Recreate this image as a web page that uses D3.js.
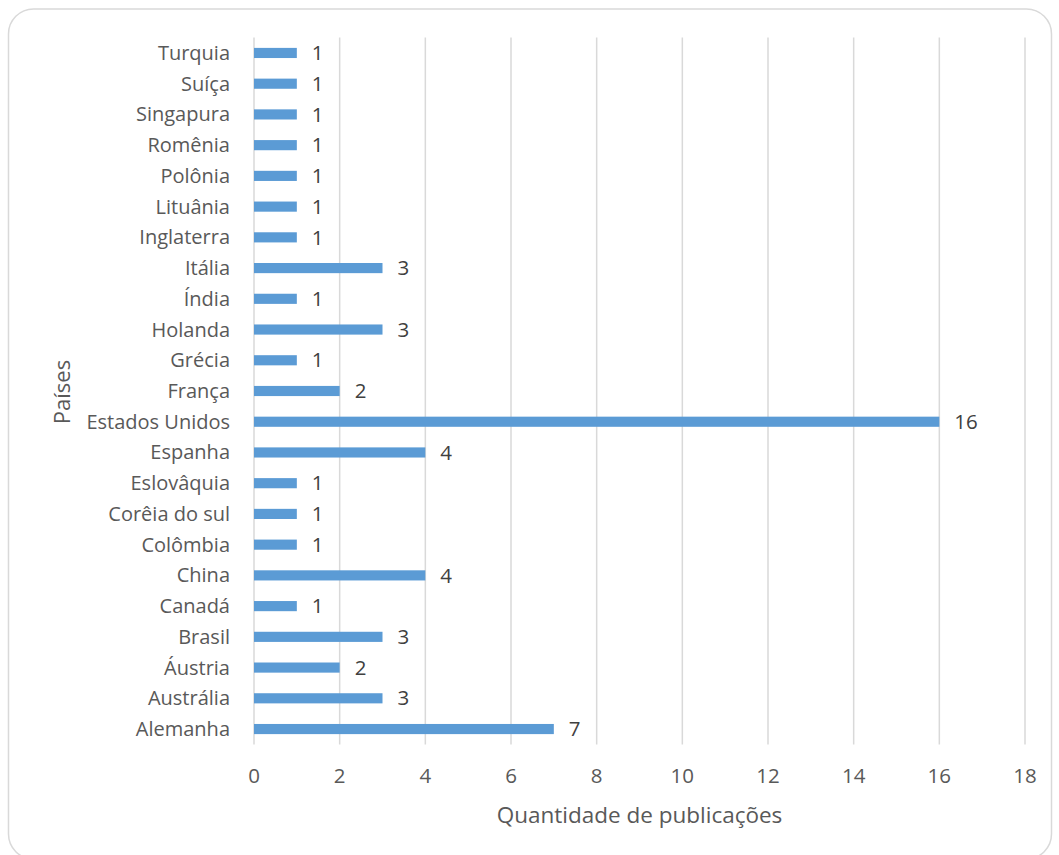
<!DOCTYPE html>
<html><head><meta charset="utf-8">
<script src="https://cdn.jsdelivr.net/npm/d3@7"></script>
<style>body{margin:0;background:#fff;}svg{display:block;}</style>
</head><body>
<script>
const countries = ["Turquia","Suíça","Singapura","Romênia","Polônia","Lituânia","Inglaterra","Itália","Índia","Holanda","Grécia","França","Estados Unidos","Espanha","Eslovâquia","Corêia do sul","Colômbia","China","Canadá","Brasil","Áustria","Austrália","Alemanha"];
const publications = [1,1,1,1,1,1,1,3,1,3,1,2,16,4,1,1,1,4,1,3,2,3,7];
const xTicks = [0,2,4,6,8,10,12,14,16,18];
const xTitle = "Quantidade de publicações";
const yTitle = "Países";

const W = 1059, H = 855;
const font = "'Open Sans', sans-serif";
const txt = "#595959";
const svg = d3.select("body").append("svg").attr("width", W).attr("height", H);

svg.append("rect").attr("x",8.5).attr("y",9).attr("width",1043).attr("height",850)
  .attr("rx",25).attr("fill","#fff").attr("stroke","#d9d9d9").attr("stroke-width",1.5);

const x = d3.scaleLinear().domain([0,18]).range([254,1025]);
const y = d3.scaleBand().domain(countries).range([37.6,744.4]).paddingInner(0.67).paddingOuter(0.335);

const g = svg.append("g");
g.selectAll("line.grid").data(xTicks).join("line").attr("class","grid")
  .attr("x1",d=>x(d)).attr("x2",d=>x(d)).attr("y1",37.6).attr("y2",744.4)
  .attr("stroke","#d9d9d9").attr("stroke-width",1.5);

g.selectAll("rect.bar").data(countries).join("rect").attr("class","bar")
  .attr("x",x(0)).attr("y",d=>y(d)).attr("height",y.bandwidth())
  .attr("width",(d,i)=>x(publications[i])-x(0)).attr("fill","#5B9BD5");

g.selectAll("text.val").data(countries).join("text").attr("class","val")
  .attr("x",(d,i)=>x(publications[i])+15).attr("y",d=>y(d)+y.bandwidth()/2)
  .attr("dy","0.35em").attr("font-family",font).attr("font-size",20.5).attr("fill","#404040")
  .text((d,i)=>publications[i]);

g.selectAll("text.cat").data(countries).join("text").attr("class","cat")
  .attr("x",230).attr("y",d=>y(d)+y.bandwidth()/2).attr("dy","0.35em")
  .attr("text-anchor","end").attr("font-family",font).attr("font-size",20).attr("fill",txt)
  .text(d=>d);

g.selectAll("text.tick").data(xTicks).join("text").attr("class","tick")
  .attr("x",d=>x(d)).attr("y",776).attr("dy","0.35em").attr("text-anchor","middle")
  .attr("font-family",font).attr("font-size",20.5).attr("fill",txt).text(d=>d);

svg.append("text").attr("x",639.5).attr("y",815).attr("dy","0.35em").attr("text-anchor","middle")
  .attr("font-family",font).attr("font-size",22.5).attr("fill",txt).text(xTitle);

svg.append("text").attr("transform","translate(62,392) rotate(-90)").attr("dy","0.35em")
  .attr("text-anchor","middle").attr("font-family",font).attr("font-size",22).attr("fill",txt).text(yTitle);
</script>
</body></html>
